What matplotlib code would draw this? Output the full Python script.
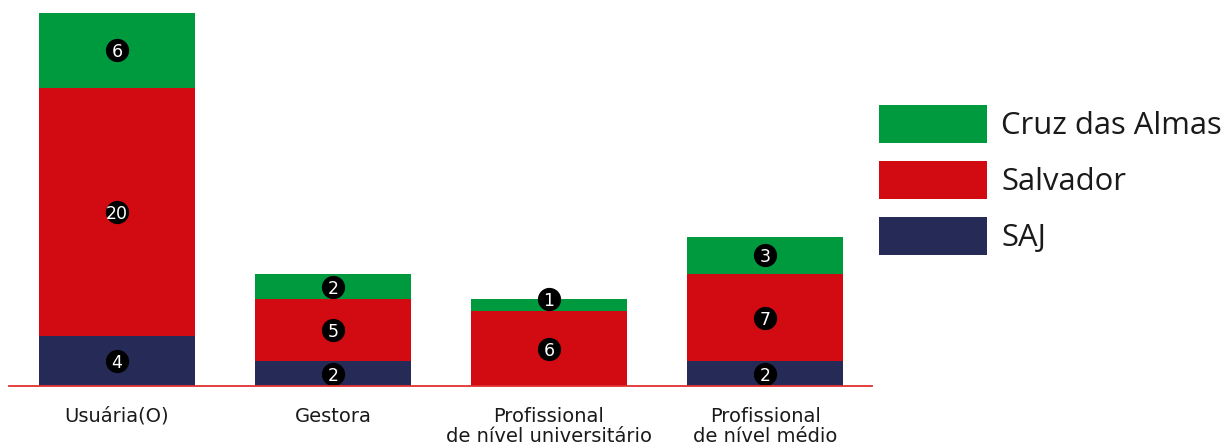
import matplotlib
matplotlib.use('Agg')
import matplotlib.pyplot as plt
from matplotlib.patches import Rectangle
import numpy as np

categories = ['Usuária(O)', 'Gestora', 'Profissional\nde nível universitário', 'Profissional\nde nível médio']
saj = [4, 2, 0, 2]
salvador = [20, 5, 6, 7]
cruz = [6, 2, 1, 3]

series = ['Cruz das Almas', 'Salvador', 'SAJ']
colors = {'SAJ': '#262a57', 'Salvador': '#d20a11', 'Cruz das Almas': '#009a3e'}

fig = plt.figure(figsize=(12.25, 4.45), dpi=100)
ax = fig.add_axes([9 / 1225, 59 / 445, 863 / 1225, 373 / 445])

x = np.arange(len(categories))
w = 0.722
bottom = np.zeros(len(categories))
for name, vals in [('SAJ', saj), ('Salvador', salvador), ('Cruz das Almas', cruz)]:
    vals = np.array(vals, dtype=float)
    ax.bar(x, vals, w, bottom=bottom, color=colors[name], linewidth=0, zorder=2)
    # numeros dentro de circulos pretos
    for xi, b, v in zip(x, bottom, vals):
        if v > 0:
            # segmento muito fino: rotulo na borda de cima
            yc = b + v if v <= 1 else b + v / 2
            ax.scatter(xi, yc, s=280, color='black', zorder=3, linewidths=0)
            ax.text(xi, yc, str(int(v)), color='white', ha='center', va='center_baseline',
                    fontsize=12.5, family='DejaVu Sans', zorder=4)
    bottom += vals

ax.set_xlim(-0.5, 3.495)
ax.set_ylim(0, 30)
ax.axhline(0, color='#e03030', lw=1.3, zorder=5, clip_on=False)
for s in ax.spines.values():
    s.set_visible(False)
ax.set_yticks([])
ax.set_xticks(x)
ax.set_xticklabels(categories, fontsize=14, family='DejaVu Sans', linespacing=1.1,
                   color='#1a1a1a')
ax.tick_params(axis='x', length=0, pad=15)

# legenda manual
for i, name in enumerate(series):
    y0 = 1 - (143 + 56 * i) / 445
    fig.add_artist(Rectangle((879 / 1225, y0), 108 / 1225, 38 / 445,
                             transform=fig.transFigure, color=colors[name], lw=0))
    fig.text(1001 / 1225, y0 + 17 / 445, name, fontsize=22.3, family='Open Sans',
             va='center', ha='left', color='#1a1a1a')

fig.savefig('out.png', dpi=100)
